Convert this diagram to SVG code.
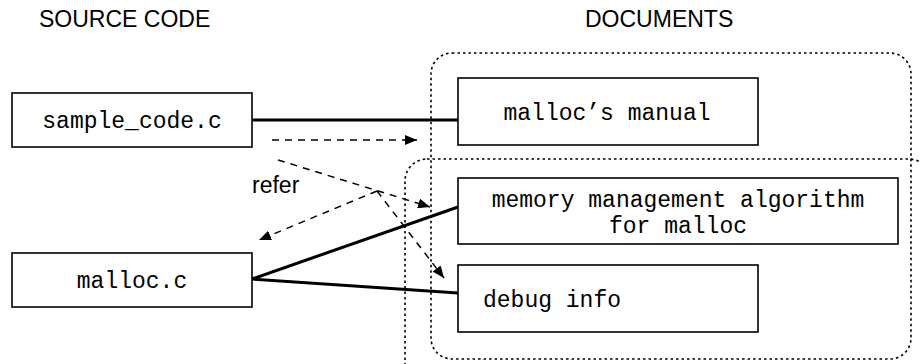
<svg xmlns="http://www.w3.org/2000/svg" width="921" height="364" viewBox="0 0 921 364">
<style>
.box{fill:#fff;stroke:#000;stroke-width:1.6}
.mono{font-family:"Liberation Mono","Courier New",monospace;font-size:23px;fill:#000}
.sans{font-family:"Liberation Sans",Arial,sans-serif;font-size:23px;fill:#000}
.group{fill:none;stroke:#000;stroke-width:1.6;stroke-dasharray:2.5 3}
.solid{fill:none;stroke:#000;stroke-width:3}
.dash{fill:none;stroke:#000;stroke-width:1.5;stroke-dasharray:7 6}
</style>
<defs>
<marker id="ah" viewBox="0 0 12 10" refX="12" refY="5" markerWidth="12" markerHeight="10" markerUnits="userSpaceOnUse" orient="auto">
<path d="M0,0 L12,5 L0,10 Z" fill="#000"/>
</marker>
</defs>
<rect width="921" height="364" fill="#fff"/>
<text class="sans" x="39" y="27">SOURCE CODE</text>
<text class="sans" x="585" y="27">DOCUMENTS</text>
<g id="groups">
<rect class="group" x="431" y="53" width="480" height="306" rx="21" ry="21"/>
<rect class="group" x="405" y="159" width="526" height="260" rx="22" ry="22"/>
</g>
<g id="connectors">
<line class="solid" x1="252" y1="120" x2="458" y2="120"/>
<line class="solid" x1="252" y1="279" x2="458" y2="207"/>
<line class="solid" x1="252" y1="279" x2="458" y2="293"/>
<line class="dash" x1="272" y1="140" x2="417" y2="140" marker-end="url(#ah)"/>
<line class="dash" x1="278" y1="160" x2="430" y2="207" marker-end="url(#ah)"/>
<line class="dash" x1="377" y1="191" x2="259" y2="240" marker-end="url(#ah)"/>
<line class="dash" x1="377" y1="191" x2="444" y2="278" marker-end="url(#ah)"/>
<text class="sans" x="252" y="193">refer</text>
</g>
<g id="sample_code">
<rect class="box" x="12" y="93" width="240" height="54"/>
<text class="mono" x="132" y="128" text-anchor="middle">sample_code.c</text>
</g>
<g id="malloc_c">
<rect class="box" x="12" y="253" width="240" height="54"/>
<text class="mono" x="132" y="288" text-anchor="middle">malloc.c</text>
</g>
<g id="manual">
<rect class="box" x="458" y="78" width="300" height="67"/>
<text class="mono" x="607" y="120" text-anchor="middle">malloc’s manual</text>
</g>
<g id="algorithm">
<rect class="box" x="458" y="178" width="440" height="66"/>
<text class="mono" x="678" y="207" text-anchor="middle">memory management algorithm</text>
<text class="mono" x="678" y="233" text-anchor="middle">for malloc</text>
</g>
<g id="debug">
<rect class="box" x="458" y="265" width="300" height="67"/>
<text class="mono" x="483" y="307">debug info</text>
</g>
</svg>
